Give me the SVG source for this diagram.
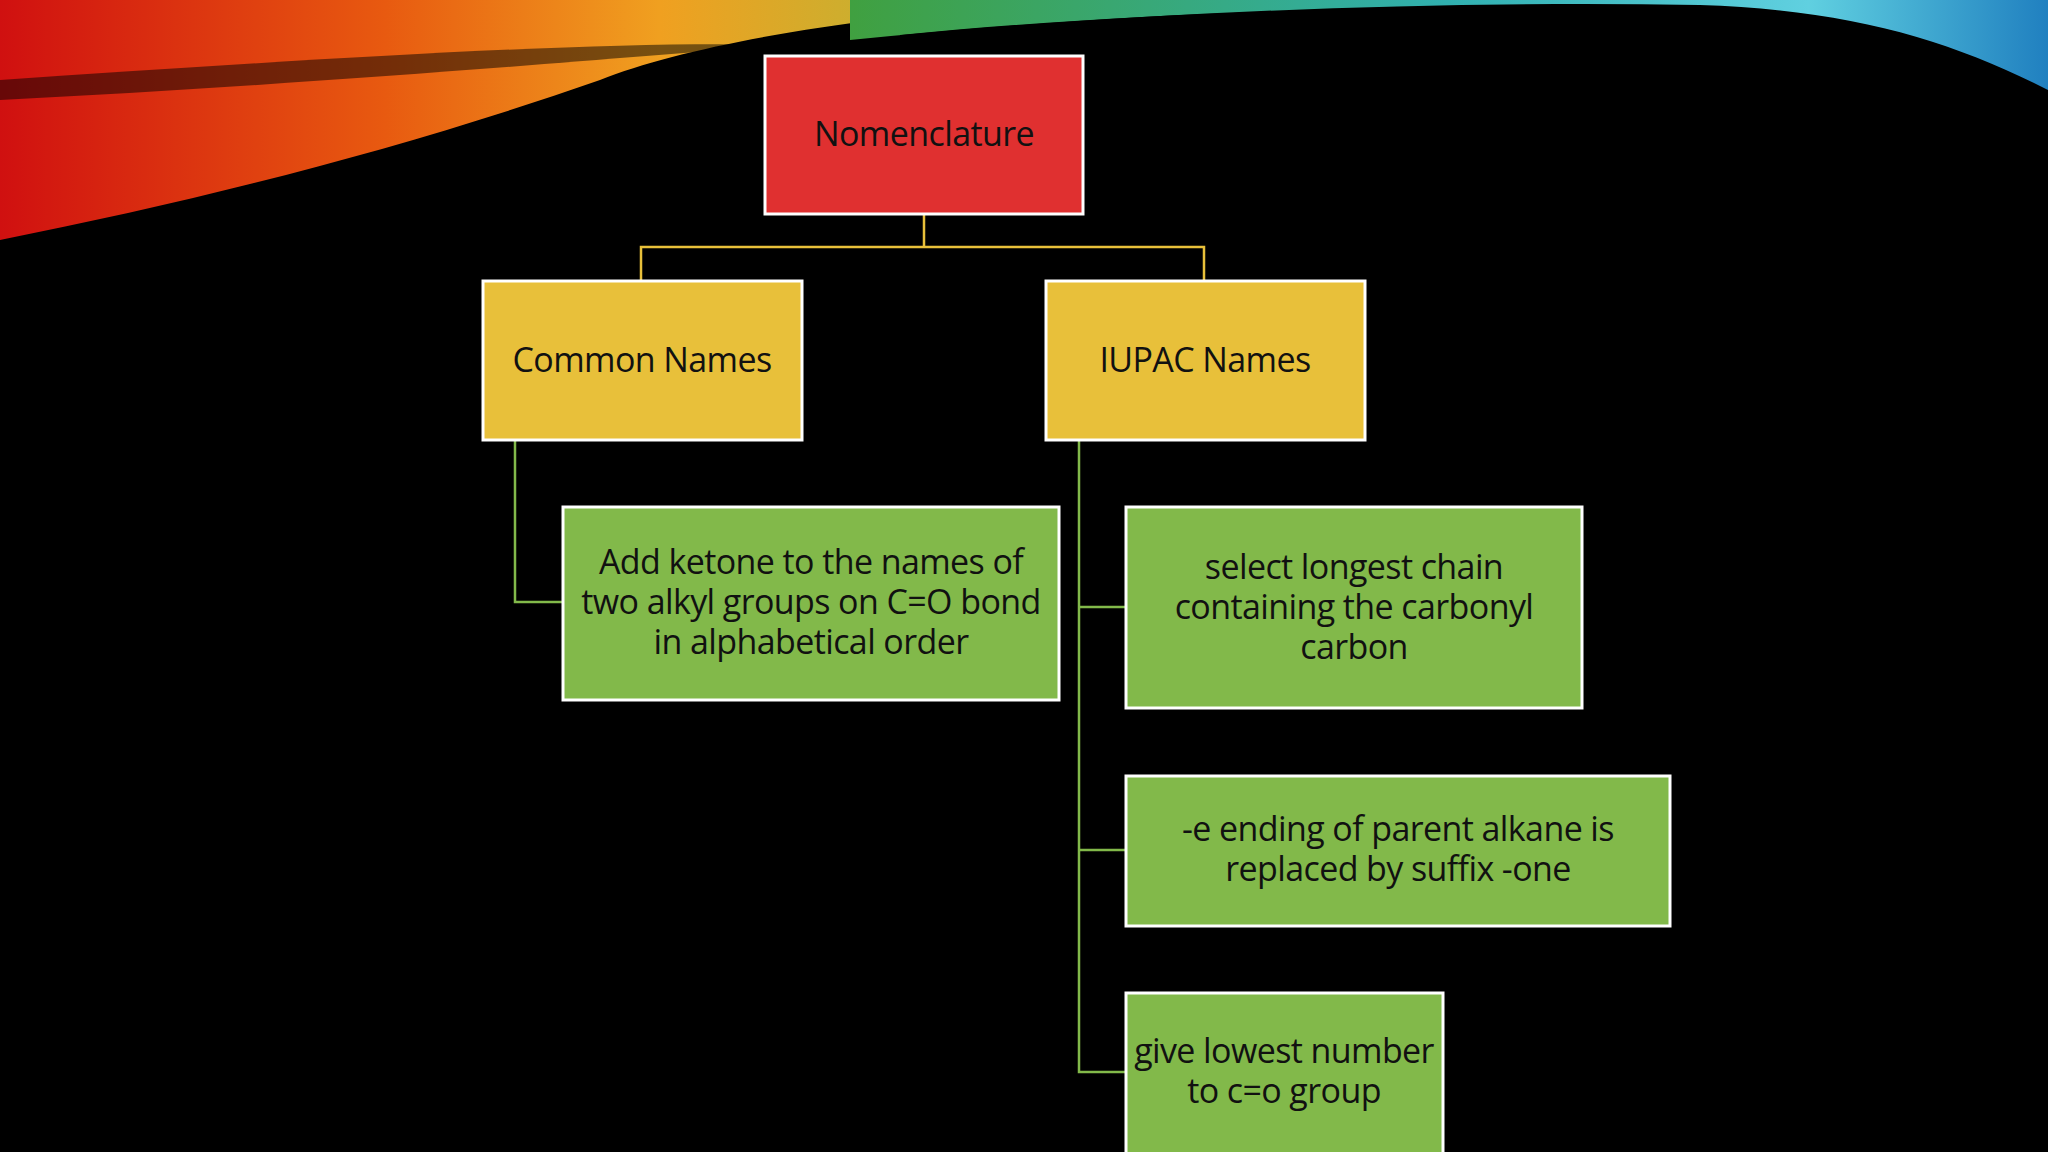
<svg xmlns="http://www.w3.org/2000/svg" width="2048" height="1152" viewBox="0 0 2048 1152">
<defs>
<linearGradient id="warm" x1="0" y1="0" x2="1" y2="0">
<stop offset="0" stop-color="#d01010"/><stop offset="0.35" stop-color="#e85a10"/><stop offset="0.6" stop-color="#f0a020"/><stop offset="0.8" stop-color="#c8b030"/><stop offset="1" stop-color="#30a040"/>
</linearGradient>
<linearGradient id="cool" x1="0" y1="0" x2="1" y2="0">
<stop offset="0" stop-color="#40a040"/><stop offset="0.5" stop-color="#30b0b0"/><stop offset="0.8" stop-color="#60d0e0"/><stop offset="1" stop-color="#2080c0"/>
</linearGradient>
<style>
.box{stroke:#fff;stroke-width:3}
.red{fill:#e03030}.yel{fill:#e8c03a}.grn{fill:#82b94a}
text{font-family:"Open Sans","Noto Sans",sans-serif;font-size:34px;letter-spacing:-0.6px;fill:#111;text-anchor:middle}
.c1{stroke:#e8c03a;stroke-width:2.5;fill:none}
.c2{stroke:#82b94a;stroke-width:2.5;fill:none}
</style>
</defs>
<rect width="2048" height="1152" fill="#000"/>
<path d="M0 0 L1100 0 C900 10 700 40 600 80 C400 150 200 200 0 240 Z" fill="url(#warm)"/>
<path d="M0 80 C300 60 600 40 780 45 C600 60 300 85 0 100 Z" fill="#000" opacity="0.5"/>
<path d="M850 0 L2048 0 L2048 90 C1950 40 1850 10 1700 5 C1400 0 1100 15 850 40 Z" fill="url(#cool)"/>
<path d="M900 35 C1200 5 1600 0 1800 20 C1900 30 2000 60 2048 95 L2048 100 C1950 60 1800 30 1600 25 C1350 20 1100 35 900 45 Z" fill="#000"/>
<g id="connectors">
<path class="c1" d="M924 214 V247 M641 281 V247 H1204 V281"/>
<path class="c2" d="M515 440 V602 H563"/>
<path class="c2" d="M1079 440 V1072 H1126 M1079 607 H1126 M1079 850 H1126"/>
</g>
<g id="nomenclature"><rect class="box red" x="765" y="56" width="318" height="158"/><text x="924" y="146">Nomenclature</text></g>
<g id="common"><rect class="box yel" x="483" y="281" width="319" height="159"/><text x="642" y="372">Common Names</text></g>
<g id="iupac"><rect class="box yel" x="1046" y="281" width="319" height="159"/><text x="1205" y="372">IUPAC Names</text></g>
<g id="ketone"><rect class="box grn" x="563" y="507" width="496" height="193"/><text x="811" y="574">Add ketone to the names of</text><text x="811" y="614">two alkyl groups on C=O bond</text><text x="811" y="654">in alphabetical order</text></g>
<g id="select"><rect class="box grn" x="1126" y="507" width="456" height="201"/><text x="1354" y="579">select longest chain</text><text x="1354" y="619">containing the carbonyl</text><text x="1354" y="659">carbon</text></g>
<g id="ending"><rect class="box grn" x="1126" y="776" width="544" height="150"/><text x="1398" y="841">-e ending of parent alkane is</text><text x="1398" y="881">replaced by suffix -one</text></g>
<g id="lowest"><rect class="box grn" x="1126" y="993" width="317" height="165"/><text x="1284" y="1063">give lowest number</text><text x="1284" y="1103">to c=o group</text></g>
</svg>
